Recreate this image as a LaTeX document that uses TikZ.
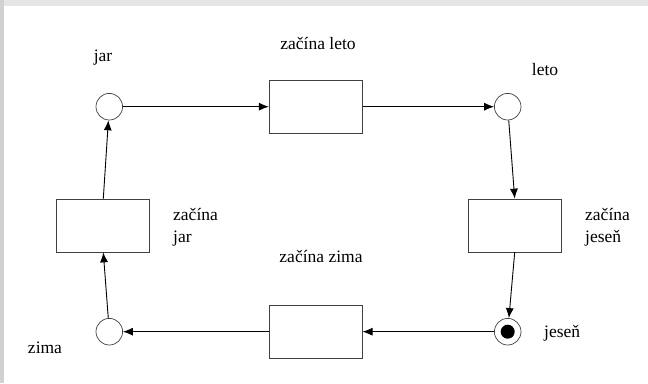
\documentclass[tikz,border=0pt]{standalone}
\usepackage{fontspec}
\setmainfont{Liberation Serif}
\usetikzlibrary{arrows.meta}
\begin{document}
\begin{tikzpicture}[x=1pt,y=-1pt,
  place/.style={circle,draw=black!75,line width=0.7pt,minimum size=26.6pt,inner sep=0pt,fill=white},
  trans/.style={rectangle,draw=black!75,line width=0.7pt,minimum width=93pt,minimum height=53pt,inner sep=0pt},
  lbl/.style={font=\fontsize{17.5}{22}\selectfont,text=black,inner sep=0pt,align=left},
  arc/.style={draw=black,line width=0.9pt,-{Latex[length=10pt,width=8pt]}}]
\useasboundingbox (0,0) rectangle (648,383);
\fill[white] (0,0) rectangle (648,383);
\fill[black!10] (0,0) rectangle (648,6);
\fill[black!18] (0,0) rectangle (4,383);
% places
\node[place] (jar) at (109.3,106.7) {};
\node[place] (leto) at (507.7,106.7) {};
\node[place] (jesen) at (507.7,331.7) {};
\node[circle,fill=black,minimum size=14pt,inner sep=0pt] (tok) at (jesen) {};
\node[place] (zima) at (109.3,331.7) {};
% transitions
\node[trans] (tleto) at (315.7,106.7) {};
\node[trans] (tjesen) at (514.7,225.5) {};
\node[trans] (tzima) at (315.7,331.7) {};
\node[trans] (tjar) at (103.3,225.5) {};
% labels
\node[lbl] (ljar) at (103,58) {jar};
\node[lbl] (lleto) at (545,70) {leto};
\node[lbl] (ljesen) [anchor=west] at (544,333) {jeseň};
\node[lbl] (lzima) at (45,348) {zima};
\node[lbl] (ltleto) at (318,43) {začína leto};
\node[lbl] (ltzima) at (321,256) {začína zima};
\node[lbl] (ltjesen) [anchor=west] at (585,227) {začína\\jeseň};
\node[lbl] (ltjar) [anchor=west] at (173,227) {začína\\jar};
% arcs
\draw[arc] (jar) -- (tleto);
\draw[arc] (tleto) -- (leto);
\draw[arc] (leto) -- (tjesen.north);
\draw[arc] (tjesen.south) -- (jesen);
\draw[arc] (jesen) -- (tzima);
\draw[arc] (tzima) -- (zima);
\draw[arc] (zima) -- (tjar.south);
\draw[arc] (tjar.north) -- (jar);
\end{tikzpicture}
\end{document}
